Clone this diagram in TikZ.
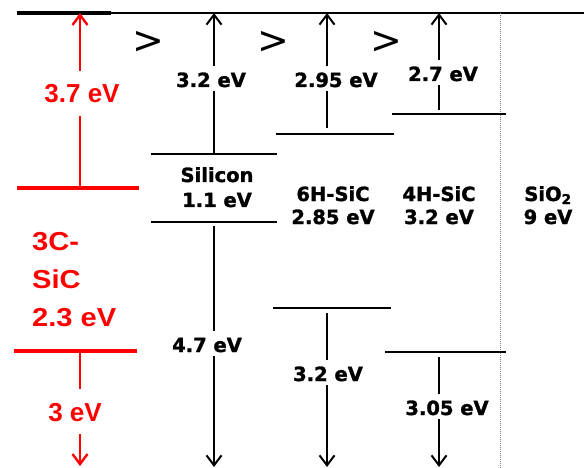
\documentclass[tikz,border=0pt]{standalone}
\usepackage{fontspec}
\newfontfamily\dvfont{DejaVu Sans}[BoldFeatures={FakeBold=1.5}]
\newfontfamily\libfont{Liberation Sans}
\newfontfamily\libwide{Liberation Sans}[FakeStretch=1.12]
\usetikzlibrary{arrows.meta}
\begin{document}
\begin{tikzpicture}[x=1pt,y=-1pt,
  lvl/.style={line width=2.6pt},
  rlvl/.style={red, line width=4pt},
  bline/.style={line width=2pt},
  barr/.style={line width=2pt, -{Straight Barb[length=10pt,width=15pt]}},
  rline/.style={red, line width=2.4pt},
  rarr/.style={red, line width=2.4pt, -{Straight Barb[length=10pt,width=15pt]}},
  blbl/.style={font=\dvfont\bfseries\fontsize{19.5}{24}\selectfont, text height=17pt, text depth=0pt, inner xsep=2pt, inner ysep=4pt},
  bname/.style={font=\dvfont\bfseries\fontsize{19.5}{23}\selectfont, align=center, inner sep=0pt},
  rlbl/.style={red, font=\libfont\bfseries\fontsize{26}{37}\selectfont, text height=19pt, text depth=0pt, inner xsep=2pt, inner ysep=13pt},
  gtsym/.style={font=\dvfont\fontsize{38}{40}\selectfont, inner sep=0pt}]
\path[use as bounding box] (0,0) rectangle (584,468);

% top line
\coordinate (tl0) at (17,13);
\coordinate (tl1) at (111,13);
\coordinate (tl2) at (584,13);
\draw[line width=4pt] (tl0) -- (tl1);
\draw[line width=2pt] (tl1) -- (tl2);

% dotted separator
\coordinate (d0) at (500,13);
\coordinate (d1) at (500,468);
\draw[densely dotted, gray, line width=1pt] (d0) -- (d1);

% > symbols
\node[gtsym] (g1) at (148,42) {>};
\node[gtsym] (g2) at (273,42) {>};
\node[gtsym] (g3) at (386,42) {>};

% 3C-SiC (red)
\coordinate (rc0) at (17,188);
\coordinate (rc1) at (139,188);
\coordinate (rv0) at (14,351);
\coordinate (rv1) at (137,351);
\draw[rlvl] (rc0) -- (rc1);
\draw[rlvl] (rv0) -- (rv1);
\coordinate (ra0) at (80,188);
\coordinate (ra1) at (80,13);
\node[rlbl, anchor=base] (r37) at (82,103) {3.7 eV};
\draw[rline] (ra0) -- (ra0 |- r37.south);
\draw[rarr] (ra0 |- r37.north) -- (ra1);
\coordinate (rb0) at (80,351);
\coordinate (rb1) at (80,466);
\node[rlbl, anchor=base] (r3) at (75,421) {3 eV};
\draw[rline] (rb0) -- (rb0 |- r3.north);
\draw[rarr] (rb0 |- r3.south) -- (rb1);
\node[red, font=\libwide\bfseries\fontsize{26}{38}\selectfont, align=left, inner sep=0pt, anchor=base west] (rname) at (32,326) {3C-\\SiC\\2.3 eV};

% Silicon
\coordinate (sc0) at (151,154);
\coordinate (sc1) at (277,154);
\coordinate (sv0) at (151,222);
\coordinate (sv1) at (277,222);
\draw[lvl] (sc0) -- (sc1);
\draw[lvl] (sv0) -- (sv1);
\coordinate (sa) at (214,154);
\coordinate (sat) at (214,13);
\node[blbl, anchor=base] (s32) at (211,87) {3.2 eV};
\draw[bline] (sa) -- (sa |- s32.south);
\draw[barr] (sa |- s32.north) -- (sat);
\coordinate (sb) at (214,222);
\coordinate (sbb) at (214,467);
\node[blbl, anchor=base] (s47) at (207,352) {4.7 eV};
\draw[bline, shorten <=4pt] (sb) -- (sb |- s47.north);
\draw[barr] (sb |- s47.south) -- (sbb);
\node[bname, anchor=base, font=\dvfont\bfseries\fontsize{19.5}{25}\selectfont] (sname) at (217,207) {Silicon\\1.1 eV};

% 6H-SiC
\coordinate (hc0) at (276,134);
\coordinate (hc1) at (394,134);
\coordinate (hv0) at (273,308);
\coordinate (hv1) at (391,308);
\draw[lvl] (hc0) -- (hc1);
\draw[lvl] (hv0) -- (hv1);
\coordinate (ha) at (327,134);
\coordinate (hat) at (327,13);
\node[blbl, anchor=base] (h295) at (336,87) {2.95 eV};
\draw[bline, shorten <=6pt] (ha) -- (ha |- h295.south);
\draw[barr] (ha |- h295.north) -- (hat);
\coordinate (hb) at (327,308);
\coordinate (hbb) at (327,467);
\node[blbl, anchor=base] (h32) at (328,381) {3.2 eV};
\draw[bline, shorten <=5pt] (hb) -- (hb |- h32.north);
\draw[barr] (hb |- h32.south) -- (hbb);
\node[bname, anchor=base] (hname) at (333,224) {6H-SiC\\2.85 eV};

% 4H-SiC
\coordinate (fc0) at (392,114);
\coordinate (fc1) at (506,114);
\coordinate (fv0) at (385,352);
\coordinate (fv1) at (506,352);
\draw[lvl] (fc0) -- (fc1);
\draw[lvl] (fv0) -- (fv1);
\coordinate (fa) at (439,114);
\coordinate (fat) at (439,13);
\node[blbl, anchor=base] (f27) at (443,81) {2.7 eV};
\draw[bline, shorten <=4pt] (fa) -- (fa |- f27.south);
\draw[barr] (fa |- f27.north) -- (fat);
\coordinate (fb) at (439,352);
\coordinate (fbb) at (439,467);
\node[blbl, anchor=base] (f305) at (447,415) {3.05 eV};
\draw[bline, shorten <=5pt] (fb) -- (fb |- f305.north);
\draw[barr] (fb |- f305.south) -- (fbb);
\node[bname, anchor=base] (fname) at (439,224) {4H-SiC\\3.2 eV};

% SiO2
\node[bname, anchor=base] (oname) at (548,224) {SiO\textsubscript{2}\\9 eV};
\end{tikzpicture}
\end{document}
